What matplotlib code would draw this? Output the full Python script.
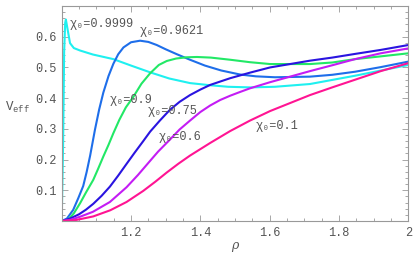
import matplotlib
matplotlib.use("Agg")
import matplotlib.pyplot as plt
from matplotlib.ticker import MultipleLocator, FixedLocator

# === DADOS ===
x_9999 = [1.0, 1.004, 1.007, 1.010, 1.012, 1.016, 1.024, 1.035, 1.053, 1.09, 1.149,
          1.2, 1.255, 1.31, 1.37, 1.428, 1.48, 1.543, 1.615, 1.716, 1.846, 2.0]
y_9999 = [0.0, 0.25, 0.55, 0.645, 0.656, 0.63, 0.579, 0.563, 0.555, 0.542, 0.527,
          0.506, 0.484, 0.464, 0.449, 0.442, 0.437, 0.435, 0.437, 0.446, 0.473, 0.508]

x_9621 = [1.0, 1.015, 1.033, 1.048, 1.062, 1.072, 1.082, 1.096, 1.108, 1.12, 1.135,
          1.149, 1.163, 1.178, 1.2, 1.226, 1.25, 1.274, 1.3, 1.332, 1.37, 1.413,
          1.46, 1.514, 1.56, 1.615, 1.716, 1.78, 1.846, 1.92, 2.0]
y_9621 = [0.0, 0.008, 0.036, 0.075, 0.114, 0.16, 0.213, 0.298, 0.363, 0.418, 0.472,
          0.512, 0.543, 0.565, 0.582, 0.587, 0.583, 0.573, 0.559, 0.543, 0.525, 0.506,
          0.49, 0.477, 0.471, 0.468, 0.47, 0.476, 0.486, 0.501, 0.519]

x_09 = [1.0, 1.02, 1.035, 1.053, 1.07, 1.091, 1.105, 1.12, 1.135, 1.149, 1.166,
        1.185, 1.207, 1.23, 1.255, 1.28, 1.303, 1.33, 1.36, 1.39, 1.43, 1.486,
        1.543, 1.601, 1.716, 1.78, 1.846, 1.92, 2.0]
y_09 = [0.0, 0.006, 0.025, 0.058, 0.093, 0.134, 0.17, 0.21, 0.248, 0.286, 0.329,
        0.37, 0.405, 0.447, 0.481, 0.508, 0.521, 0.529, 0.533, 0.534, 0.532, 0.525,
        0.517, 0.511, 0.511, 0.516, 0.527, 0.536, 0.546]

x_075 = [1.0, 1.024, 1.05, 1.07, 1.091, 1.115, 1.139, 1.163, 1.187, 1.21, 1.235,
         1.255, 1.283, 1.312, 1.34, 1.37, 1.4, 1.428, 1.486, 1.543, 1.601, 1.716,
         1.78, 1.846, 1.92, 2.0]
y_075 = [0.0, 0.008, 0.022, 0.037, 0.056, 0.082, 0.112, 0.148, 0.186, 0.222, 0.26,
         0.291, 0.327, 0.362, 0.388, 0.41, 0.428, 0.443, 0.465, 0.483, 0.5, 0.522,
         0.532, 0.544, 0.557, 0.573]

x_06 = [1.0, 1.025, 1.053, 1.09, 1.139, 1.187, 1.22, 1.255, 1.278, 1.312, 1.34,
        1.37, 1.4, 1.428, 1.457, 1.486, 1.514, 1.543, 1.601, 1.716, 1.78, 1.846,
        1.92, 2.0]
y_06 = [0.0, 0.004, 0.014, 0.03, 0.062, 0.11, 0.15, 0.196, 0.226, 0.265, 0.298,
        0.327, 0.355, 0.376, 0.394, 0.408, 0.42, 0.432, 0.452, 0.488, 0.507, 0.527,
        0.546, 0.562]

x_01 = [1.0, 1.04, 1.091, 1.14, 1.187, 1.235, 1.27, 1.303, 1.337, 1.37, 1.428,
        1.486, 1.543, 1.601, 1.716, 1.78, 1.846, 1.92, 2.0]
y_01 = [0.0, 0.003, 0.015, 0.035, 0.062, 0.098, 0.128, 0.158, 0.187, 0.213, 0.254,
        0.293, 0.327, 0.358, 0.41, 0.435, 0.46, 0.488, 0.514]

series = [
    (x_9999, y_9999, '#1ff0f0'),
    (x_9621, y_9621, '#1e6eea'),
    (x_09, y_09, '#22e866'),
    (x_075, y_075, '#2a14e0'),
    (x_06, y_06, '#c41cf4'),
    (x_01, y_01, '#ff1493'),
]

rotulos = ['χ₀=0.9999', 'χ₀=0.9621', 'χ₀=0.9', 'χ₀=0.75', 'χ₀=0.6', 'χ₀=0.1']
pos_rotulos = [(1.024, 0.642), (1.226, 0.617), (1.137, 0.394),
               (1.247, 0.359), (1.279, 0.275), (1.558, 0.309)]

xticks = [1.2, 1.4, 1.6, 1.8, 2.0]
xtick_labels = ['1.2', '1.4', '1.6', '1.8', '2']
yticks = [0.1, 0.2, 0.3, 0.4, 0.5, 0.6]
ytick_labels = ['0.1', '0.2', '0.3', '0.4', '0.5', '0.6']

# === ESTILO ===
MONO = ['Liberation Mono', 'DejaVu Sans Mono', 'DejaVu Sans']
plt.rcParams['font.family'] = MONO
plt.rcParams['mathtext.fontset'] = 'custom'
plt.rcParams['mathtext.rm'] = 'Liberation Mono'
CINZA = '#555555'

fig = plt.figure(figsize=(4.15, 2.57), dpi=100)
ax = fig.add_axes([0.1487, 0.14, 0.8356, 0.8367])

for xs, ys, cor in series:
    ax.plot(xs, ys, color=cor, lw=1.5, solid_capstyle='butt')

for texto, (tx, ty) in zip(rotulos, pos_rotulos):
    ax.text(tx, ty, texto, ha='left', va='center', fontsize=8.6,
            color=CINZA, family=MONO)

ax.set_xlim(1.0, 2.0)
ax.set_ylim(0.0, 0.70)
ax.xaxis.set_major_locator(FixedLocator(xticks))
ax.set_xticklabels(xtick_labels)
ax.yaxis.set_major_locator(FixedLocator(yticks))
ax.set_yticklabels(ytick_labels)
ax.xaxis.set_minor_locator(MultipleLocator(0.05))
ax.yaxis.set_minor_locator(MultipleLocator(0.02))

ax.tick_params(which='both', direction='in', top=True, right=True,
               colors='#999999', labelcolor=CINZA, width=0.6)
ax.tick_params(which='major', length=4, labelsize=8.6, pad=4)
ax.tick_params(which='minor', length=2)
for s in ax.spines.values():
    s.set_color('#999999')
    s.set_linewidth(0.8)

fig.text(5 / 415, 1 - 107 / 257, r'$\mathrm{V}_{\mathrm{eff}}$', ha='left',
         va='center', fontsize=9, color=CINZA)
fig.text(235 / 415, 1 - 245 / 257, 'ρ', ha='center', va='center', fontsize=9,
         color=CINZA, family='DejaVu Serif', style='italic')

fig.savefig('out.png', dpi=100)
